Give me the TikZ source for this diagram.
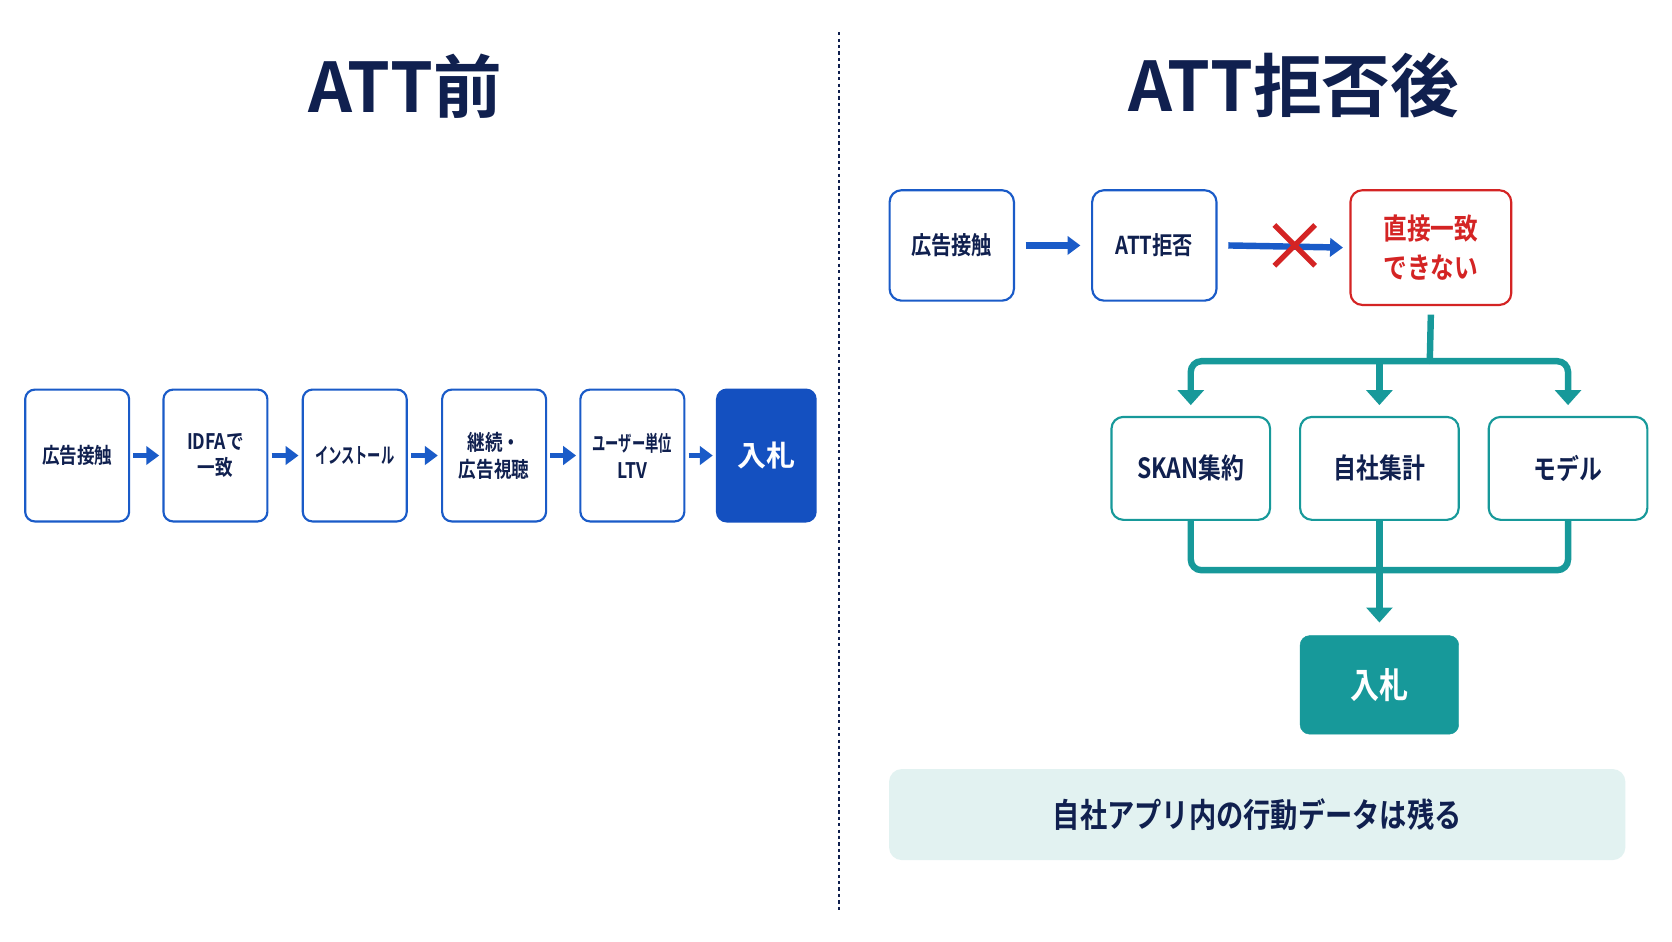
\documentclass[tikz,border=0pt]{standalone}
\usepackage{fontspec}
\setmainfont{Noto Sans CJK JP}[BoldFont={* Bold}]
\usetikzlibrary{arrows.meta}
\definecolor{navy}{HTML}{10204F}
\definecolor{bl}{HTML}{1A5BC8}
\definecolor{bfill}{HTML}{1450C0}
\definecolor{rd}{HTML}{D42424}
\definecolor{tl}{HTML}{17999A}
\definecolor{ban}{HTML}{E2F2F1}
\newcommand{\nrw}[1]{\scalebox{0.82}[1]{#1}}
\begin{document}
\begin{tikzpicture}[x=1pt,y=-1pt,
 lb/.style={draw=bl,line width=2pt,rounded corners=9pt,fill=white,text=navy,font=\bfseries\fontsize{20}{25}\selectfont,align=center,inner sep=0pt},
 rb/.style={draw=bl,line width=2pt,rounded corners=11pt,fill=white,text=navy,font=\bfseries\fontsize{23}{28}\selectfont,align=center,inner sep=0pt,minimum width=116pt,minimum height=103pt},
 tb/.style={draw=tl,line width=2pt,rounded corners=11pt,fill=white,text=navy,font=\bfseries\fontsize{26}{30}\selectfont,align=center,inner sep=0pt,minimum width=148pt,minimum height=96pt},
 ba/.style={-{Triangle[length=12pt,width=17pt]},draw=bl,line width=5pt},
 ta/.style={-{Triangle[length=14pt,width=24pt]},draw=tl,line width=6pt,rounded corners=10pt}]
\useasboundingbox (0,0) rectangle (1560,878);
\fill[white] (0,0) rectangle (1560,878);
\node[text=navy,font=\bfseries\fontsize{64}{70}\selectfont] (t1) at (378,80) {ATT前};
\node[text=navy,font=\bfseries\fontsize{64}{70}\selectfont] (t2) at (1207,80) {ATT拒否後};
\draw[navy,line width=1.5pt,dash pattern=on 3pt off 3pt] (783,30) -- (783,850);
% left
\foreach \n/\x/\t in {a1/72/\nrw{広告接触},a2/201/\nrw{IDFAで}\\\nrw{一致},a3/331/\scalebox{0.62}[1]{インストール},a4/461/\nrw{継続・}\\\nrw{広告視聴},a5/590/\scalebox{0.62}[1]{ユーザー単位}\\\nrw{LTV}}
  \node[lb,minimum width=97pt,minimum height=123pt] (\n) at (\x,425) {\t};
\node[lb,fill=bfill,draw=bfill,text=white,font=\bfseries\fontsize{27}{30}\selectfont,minimum width=92pt,minimum height=123pt] (a6) at (715,425) {入札};
\foreach \a/\b in {a1/a2,a2/a3,a3/a4,a4/a5,a5/a6}
  \draw[ba] ([xshift=3pt]\a.east) -- ([xshift=-3pt]\b.west);
% right
\node[rb] (b1) at (888,229) {\nrw{広告接触}};
\node[rb] (b2) at (1077,229) {\nrw{ATT拒否}};
\node[rb,draw=rd,text=rd,minimum width=150pt,minimum height=107pt,font=\bfseries\fontsize{27}{36}\selectfont] (b3) at (1335,231) {\nrw{直接一致}\\\nrw{できない}};
\draw[ba,line width=6pt] ([xshift=10pt]b1.east) -- ([xshift=-10pt]b2.west);
\draw[ba,line width=6pt] ([xshift=10pt]b2.east) -- ([xshift=-6pt]b3.west);
\coordinate (x) at (1208,229);
\draw[rd,line width=5pt] ([shift={(-19,-19)}]x) -- ([shift={(19,19)}]x) ([shift={(-19,19)}]x) -- ([shift={(19,-19)}]x);
\node[tb] (c1) at (1111,437) {\nrw{SKAN集約}};
\node[tb] (c2) at (1287,437) {\nrw{自社集計}};
\node[tb] (c3) at (1463,437) {\nrw{モデル}};
\coordinate (j1) at (1334,337);
\draw[tl,line width=6pt] ([yshift=-8pt]b3.south) -- (j1);
\draw[ta] (j1) -| ([yshift=10pt]c1.north);
\draw[ta] (j1) -| ([yshift=10pt]c3.north);
\draw[ta] (c2.north |- j1) -- ([yshift=10pt]c2.north);
\node[draw=tl,fill=tl,rounded corners=9pt,text=white,font=\bfseries\fontsize{33}{36}\selectfont,minimum width=148pt,minimum height=92pt] (d) at (1287,639) {\nrw{入札}};
\coordinate (j2) at (1287,532);
\draw[tl,line width=6pt,rounded corners=10pt] (c1.south) |- (j2) -| (c3.south);
\draw[ta] (c2.south) -- ([yshift=12pt]d.north);
\node[fill=ban,rounded corners=12pt,minimum width=687pt,minimum height=85pt,text=navy,font=\bfseries\fontsize{31}{34}\selectfont] (e) at (1173,760) {\nrw{自社アプリ内の行動データは残る}};
\end{tikzpicture}
\end{document}
